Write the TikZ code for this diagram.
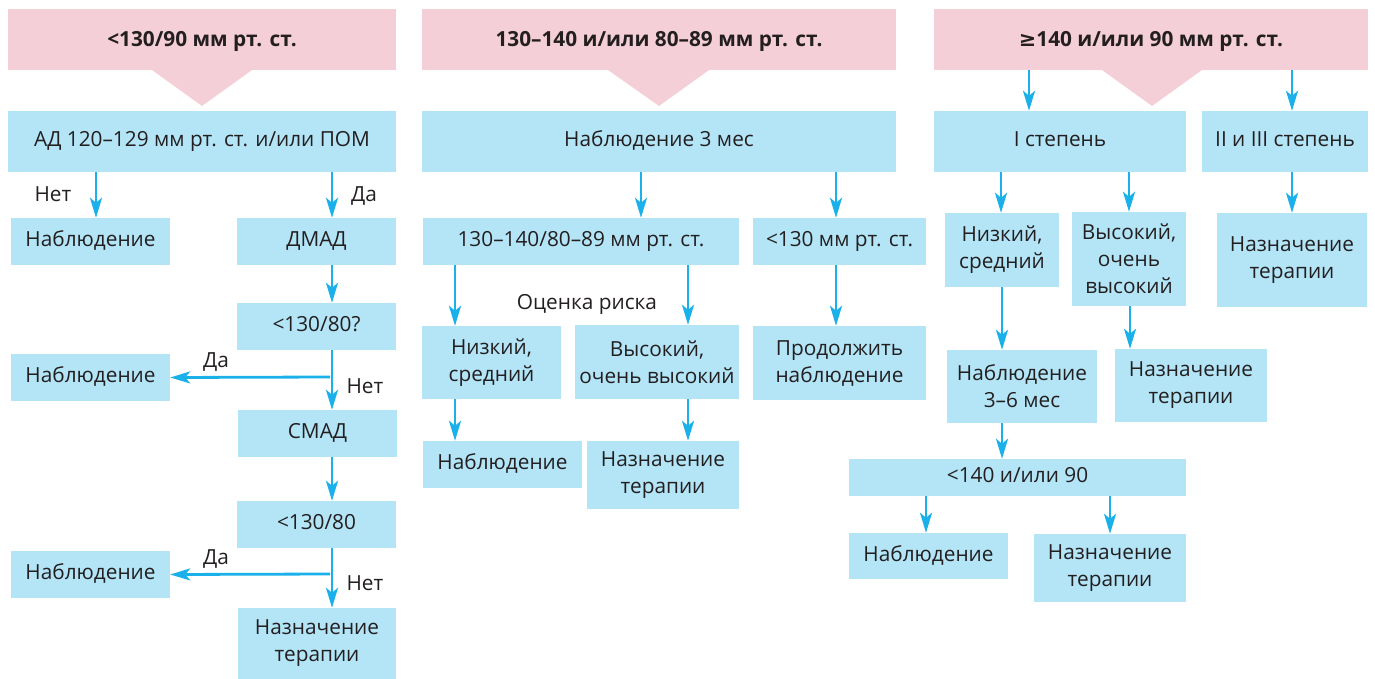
\documentclass[tikz,border=0pt]{standalone}
\usepackage{fontspec}
\setmainfont{Open Sans}
\newfontfamily\symfont{DejaVu Sans}
\usetikzlibrary{arrows.meta}
\definecolor{pinkc}{HTML}{F5CFD7}
\definecolor{bluec}{HTML}{B3E5F7}
\definecolor{arrc}{HTML}{1AB0EA}
\definecolor{txt}{HTML}{231F20}
\begin{document}
\begin{tikzpicture}[x=1pt,y=-1pt,
 box/.style={fill=bluec, text=txt, inner sep=0pt, align=center, font=\fontsize{20.8}{27}\selectfont},
 one/.style={text height=15pt, text depth=5pt},
 head/.style={fill=pinkc, text=txt, inner sep=0pt, text height=15pt, text depth=1pt, font=\bfseries\fontsize{20.8}{27}\selectfont},
 lbl/.style={text=txt, inner sep=0pt, anchor=base, font=\fontsize{20.8}{27}\selectfont},
 arr/.style={draw=arrc, line width=2.8pt, -{Stealth[length=20pt,width=12pt,inset=5pt]}},
 sz/.style 2 args={minimum width=#1pt, minimum height=#2pt}]
\useasboundingbox (0,0) rectangle (1375,679);
% ---------- column 1
\node[head, sz={388}{61}] (h1) at (202,39.5) {<130/90 мм рт. ст.};
\fill[pinkc] (152,70) -- (252,70) -- (202,106) -- cycle;
\node[box, one, sz={388}{61}] (ad) at (202,141.5) {АД 120–129 мм рт. ст. и/или ПОМ};
\node[box, one, sz={159}{47}] (n1) at (90.5,241.5) {Наблюдение};
\node[box, one, sz={159}{47}] (dmad) at (316.5,241.5) {ДМАД};
\node[box, one, sz={159}{47}] (q1) at (316.5,326.5) {<130/80?};
\node[box, one, sz={159}{47}] (n2) at (90.5,377.5) {Наблюдение};
\node[box, one, sz={159}{47}] (smad) at (317.5,433.5) {СМАД};
\node[box, one, sz={159}{47}] (q2) at (316.5,524.5) {<130/80};
\node[box, one, sz={159}{47}] (n3) at (90.5,574.5) {Наблюдение};
\node[box, sz={158}{71}] (t1) at (317,643.5) {Назначение\\терапии};
\coordinate (b1) at (330,377);
\coordinate (b2) at (330,574);
\draw[arr] (ad.south -| 96,0) -- (n1.north -| 96,0);
\draw[arr] (ad.south -| 332,0) -- (dmad.north -| 332,0);
\draw[arr] (dmad.south -| 332,0) -- (q1.north -| 332,0);
\draw[arr] (q1.south -| 332,0) -- (smad.north -| 332,0);
\draw[arr] (smad.south -| 332,0) -- (q2.north -| 332,0);
\draw[arr] (q2.south -| 332,0) -- (t1.north -| 332,0);
\draw[arr] (b1) -- (n2.east);
\draw[arr] (b2) -- (n3.east);
\node[lbl] (l1) at (53,201.5) {Нет};
\node[lbl] (l2) at (364,201.5) {Да};
\node[lbl] (l3) at (216,367.3) {Да};
\node[lbl] (l4) at (365,393.3) {Нет};
\node[lbl] (l5) at (216,564.3) {Да};
\node[lbl] (l6) at (365,590) {Нет};
% ---------- column 2
\node[head, sz={474}{61}] (h2) at (659,39.5) {130–140 и/или 80–89 мм рт. ст.};
\fill[pinkc] (608,70) -- (709,70) -- (659,106) -- cycle;
\node[box, one, sz={474}{61}] (obs3) at (659,141.5) {Наблюдение 3 мес};
\node[box, one, sz={316}{47}] (r130) at (581,241.5) {130–140/80–89 мм рт. ст.};
\node[box, one, sz={173}{47}] (l130) at (839.5,241.5) {<130 мм рт. ст.};
\node[box, sz={139}{73}] (low2) at (491.5,362.5) {Низкий,\\средний};
\node[box, sz={164}{74}] (high2) at (657,362) {Высокий,\\очень высокий};
\node[box, sz={173}{74}] (cont) at (839.5,363) {Продолжить\\наблюдение};
\node[box, one, sz={159}{47}] (nab2) at (502.5,464.5) {Наблюдение};
\node[box, sz={152}{68}] (naz2) at (663,475) {Назначение\\терапии};
\node[lbl] (risk) at (587,309.3) {Оценка риска};
\draw[arr] (obs3.south -| 641,0) -- (r130.north -| 641,0);
\draw[arr] (obs3.south -| 836,0) -- (l130.north -| 836,0);
\draw[arr] (r130.south -| 455,0) -- (low2.north -| 455,0);
\draw[arr] (r130.south -| 688,0) -- (high2.north -| 688,0);
\draw[arr] (l130.south -| 836,0) -- (cont.north -| 836,0);
\draw[arr] (low2.south -| 455,0) -- (nab2.north -| 455,0);
\draw[arr] (high2.south -| 688,0) -- (naz2.north -| 688,0);
% ---------- column 3
\node[head, sz={434}{61}] (h3) at (1151,39.5) {{\symfont ≥}140 и/или 90 мм рт. ст.};
\fill[pinkc] (1102,70) -- (1202,70) -- (1152,106) -- cycle;
\node[box, one, sz={252}{61}] (st1) at (1060,141.5) {I степень};
\node[box, one, sz={166}{61}] (st23) at (1285,141.5) {II и III степень};
\node[box, sz={114}{74}] (low3) at (1002,250) {Низкий,\\средний};
\node[box, sz={114}{94}] (high3) at (1129,259) {Высокий,\\очень\\высокий};
\node[box, sz={150}{94}] (naz3a) at (1292,260) {Назначение\\терапии};
\node[box, sz={150}{73}] (obs36) at (1022,386.5) {Наблюдение\\3–6 мес};
\node[box, sz={152}{73}] (naz3b) at (1191,385.5) {Назначение\\терапии};
\node[box, one, sz={337}{37}] (lt140) at (1017.5,477.5) {<140 и/или 90};
\node[box, one, sz={159}{46}] (nab3) at (928.5,556) {Наблюдение};
\node[box, sz={152}{68}] (naz3c) at (1110,568) {Назначение\\терапии};
\draw[arr] (h3.south -| 1029,0) -- (st1.north -| 1029,0);
\draw[arr] (h3.south -| 1292,0) -- (st23.north -| 1292,0);
\draw[arr] (st1.south -| 1001,0) -- (low3.north -| 1001,0);
\draw[arr] (st1.south -| 1129,0) -- (high3.north -| 1129,0);
\draw[arr] (st23.south -| 1292,0) -- (naz3a.north -| 1292,0);
\draw[arr] (low3.south -| 1002,0) -- (obs36.north -| 1002,0);
\draw[arr] (high3.south -| 1130,0) -- (naz3b.north -| 1130,0);
\draw[arr] (obs36.south -| 1002,0) -- (lt140.north -| 1002,0);
\draw[arr] (lt140.south -| 926,0) -- (nab3.north -| 926,0);
\draw[arr] (lt140.south -| 1110,0) -- (naz3c.north -| 1110,0);
\end{tikzpicture}
\end{document}
